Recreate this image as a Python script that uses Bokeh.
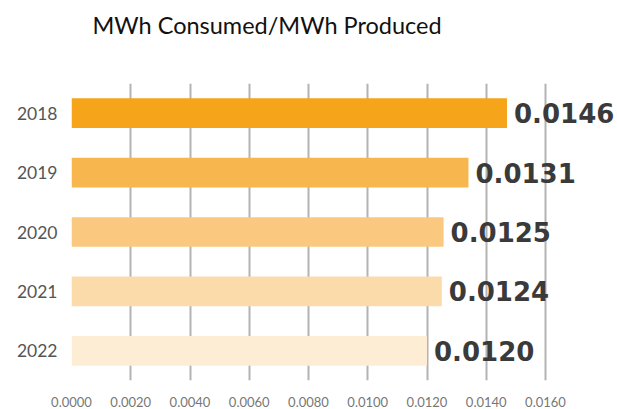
from bokeh.plotting import figure
from bokeh.models import ColumnDataSource, FixedTicker, Range1d, NumeralTickFormatter, Title
from bokeh.core.properties import value
from bokeh.embed import file_html
from bokeh.resources import INLINE

years = ["2018", "2019", "2020", "2021", "2022"]
ratios = [0.0147, 0.0134, 0.01256, 0.0125, 0.0120]
value_labels = ["0.0146", "0.0131", "0.0125", "0.0124", "0.0120"]
bar_colors = ["#F6A51B", "#F8B64F", "#FBC87F", "#FCDBAA", "#FDEDD5"]
x_ticks = [0.0, 0.002, 0.004, 0.006, 0.008, 0.010, 0.012, 0.014, 0.016]
title_text = "MWh Consumed/MWh Produced"

src = ColumnDataSource(dict(year=years, ratio=ratios, label=value_labels, color=bar_colors))

W, H = 617, 409
left, right, top, bottom = 71, 0, 83, 26
frame_w = W - left - right
x_end = 0.016 * frame_w / 474.0

p = figure(width=W, height=H, y_range=list(reversed(years)),
           x_range=Range1d(0, x_end),
           output_backend="svg", toolbar_location=None,
           min_border_left=left, min_border_right=right,
           min_border_top=top, min_border_bottom=bottom,
           title=title_text)
p.outline_line_color = None
p.background_fill_color = "white"
p.border_fill_color = "white"

p.title.align = "left"
p.title.offset = 21
p.title.text_font = "Lato"
p.title.text_font_size = "23.5px"
p.title.text_font_style = "normal"
p.title.text_color = "#111111"
p.title.standoff = 10

spacer = Title(text=" ", text_font_size="10px", standoff=27)
p.add_layout(spacer, "above")

p.hbar(y="year", right="ratio", height=0.5, left=0, color="color", source=src, line_color=None)
p.text(x="ratio", y="year", text="label", source=src, x_offset=7,
       text_font=value("DejaVu Sans"), text_font_style="bold", text_font_size="26px",
       text_color="#3a3a3a", text_baseline="middle", text_align="left")

p.xaxis.ticker = FixedTicker(ticks=x_ticks)
p.xaxis.formatter = NumeralTickFormatter(format="0.0000")
p.xaxis.axis_line_color = None
p.xaxis.major_tick_line_color = None
p.xaxis.minor_tick_line_color = None
p.xaxis.major_label_text_font = "Lato"
p.xaxis.major_label_text_font_size = "13px"
p.xaxis.major_label_text_color = "#777777"
p.xaxis.major_label_standoff = 10

p.yaxis.axis_line_color = None
p.yaxis.major_tick_line_color = None
p.yaxis.major_label_text_font = "Lato"
p.yaxis.major_label_text_font_size = "17.5px"
p.yaxis.major_label_text_color = "#555555"
p.yaxis.major_label_standoff = 8

p.xgrid.ticker = FixedTicker(ticks=x_ticks)
p.xgrid.grid_line_color = "#b3b3b3"
p.xgrid.grid_line_width = 2
p.ygrid.grid_line_color = None

open("out.html", "w").write(file_html(p, INLINE))
